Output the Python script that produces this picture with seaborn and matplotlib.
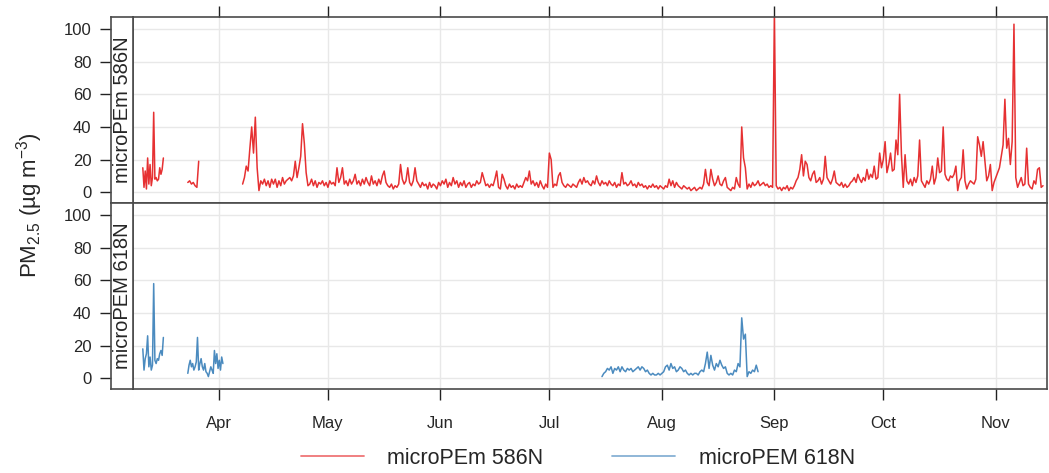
import numpy as np
import pandas as pd
import matplotlib
matplotlib.use("Agg")
import matplotlib.pyplot as plt
from matplotlib.ticker import NullLocator
from matplotlib.lines import Line2D
import seaborn as sns

# ---------------- data (PM2.5, ug m-3) ----------------
origin = "2017-03-01"          # day offsets below are counted from this date
series_names = ["microPEm 586N", "microPEM 618N"]
strip_labels = ["microPEm 586N", "microPEM 618N"]
month_ticks = ["2017-04-01", "2017-05-01", "2017-06-01", "2017-07-01",
               "2017-08-01", "2017-09-01", "2017-10-01", "2017-11-01"]
month_labels = ["Apr", "May", "Jun", "Jul", "Aug", "Sep", "Oct", "Nov"]
y_ticks = [0, 20, 40, 60, 80, 100]

# red monitor, segment 1 (8-hourly from day 10.0)
red_seg1_start, red_seg1_step = 10.0, 8
red_seg1 = [15, 3, 13, 2, 21, 5, 17, 4, 9, 49, 8, 9, 7, 8, 15, 11, 14, 21]
# red monitor, segment 2 (12-hourly from day 22.4)
red_seg2_start, red_seg2_step = 22.4, 12
red_seg2 = [6, 7, 5, 6, 4, 3, 19]
# red monitor, main record (12-hourly from day 37.5)
red_seg3_start, red_seg3_step = 37.5, 12
red_seg3 = [
    5, 9, 16, 13, 27, 40, 24, 46, 15, 1,
    7, 5, 8, 4, 7, 3, 8, 5, 8, 3,
    7, 4, 9, 5, 7, 8, 9, 7, 10, 19,
    9, 15, 22, 42, 30, 12, 4, 5, 8, 4,
    7, 3, 6, 5, 7, 4, 6, 3, 7, 5,
    6, 4, 15, 6, 9, 15, 5, 7, 4, 8,
    5, 7, 11, 5, 7, 4, 8, 5, 9, 6,
    4, 10, 5, 7, 4, 8, 5, 10, 13, 6,
    4, 3, 5, 2, 4, 3, 5, 17, 8, 5,
    7, 15, 6, 4, 7, 15, 7, 5, 3, 6,
    4, 5, 2, 6, 3, 5, 4, 2, 6, 4,
    7, 5, 8, 3, 6, 4, 9, 5, 7, 3,
    6, 4, 7, 3, 5, 6, 3, 5, 4, 7,
    5, 6, 12, 8, 4, 5, 3, 5, 4, 8,
    13, 3, 2, 11, 8, 4, 2, 5, 3, 4,
    2, 5, 3, 4, 3, 6, 9, 7, 13, 5,
    7, 4, 6, 3, 7, 4, 2, 5, 3, 24,
    20, 3, 5, 4, 10, 12, 6, 4, 3, 5,
    4, 3, 5, 4, 3, 6, 8, 5, 9, 6,
    7, 5, 4, 7, 5, 10, 6, 4, 7, 5,
    6, 4, 7, 5, 4, 6, 3, 5, 4, 12,
    5, 6, 4, 5, 7, 4, 5, 3, 6, 4,
    5, 3, 4, 2, 4, 3, 5, 3, 4, 2,
    4, 3, 2, 4, 3, 8, 4, 7, 3, 6,
    4, 3, 2, 4, 3, 2, 3, 1, 2, 3,
    1, 2, 3, 2, 5, 14, 6, 4, 14, 8,
    4, 6, 10, 5, 4, 7, 9, 3, 2, 1,
    3, 2, 9, 5, 3, 40, 21, 15, 2, 5,
    3, 6, 4, 5, 7, 4, 5, 6, 4, 5,
    3, 4, 3, 110, 4, 2, 3, 1, 3, 2,
    4, 1, 3, 2, 4, 7, 9, 14, 23, 10,
    19, 17, 9, 7, 11, 13, 6, 7, 9, 5,
    8, 22, 9, 7, 5, 8, 13, 6, 5, 4,
    6, 3, 5, 3, 4, 6, 7, 9, 6, 11,
    8, 6, 9, 7, 14, 8, 11, 9, 16, 8,
    9, 24, 15, 20, 31, 12, 17, 24, 13, 14,
    32, 23, 60, 23, 3, 23, 7, 5, 8, 4,
    9, 6, 10, 32, 7, 5, 3, 7, 5, 8,
    16, 5, 9, 21, 12, 13, 40, 11, 8, 7,
    10, 9, 11, 16, 1, 7, 9, 26, 7, 2,
    5, 7, 6, 5, 8, 34, 29, 22, 31, 19,
    7, 10, 17, 1, 6, 9, 12, 15, 22, 29,
    57, 27, 33, 17, 31, 103, 9, 3, 6, 9,
    4, 5, 27, 5, 3, 2, 7, 5, 14, 15,
    3, 4,
]

# blue monitor, segment 1 (8-hourly from day 10.0)
blue_seg1_start, blue_seg1_step = 10.0, 8
blue_seg1 = [18, 5, 12, 15, 26, 7, 13, 5, 8, 58, 11, 9, 12, 11, 15, 17, 14, 25]
# blue monitor, segment 2 (8-hourly from day 22.4)
blue_seg2_start, blue_seg2_step = 22.4, 8
blue_seg2 = [3, 8, 11, 7, 9, 5, 7, 10, 25, 5, 9, 12, 7, 5, 9, 4, 3, 1, 4, 7,
             5, 3, 17, 9, 15, 6, 11, 5, 13, 9]
# blue monitor, segment 3 (12-hourly from day 136.5)
blue_seg3_start, blue_seg3_step = 136.5, 12
blue_seg3 = [
    1, 3, 4, 6, 5, 7, 3, 6, 5, 7,
    4, 7, 5, 4, 6, 5, 6, 4, 5, 6,
    7, 5, 7, 6, 4, 5, 3, 2, 3, 2,
    2, 3, 2, 3, 4, 7, 8, 5, 9, 6,
    7, 4, 5, 7, 6, 4, 5, 3, 2, 3,
    2, 3, 3, 2, 4, 5, 4, 9, 16, 6,
    14, 8, 5, 9, 7, 11, 8, 6, 7, 3,
    2, 3, 2, 5, 4, 9, 7, 37, 24, 27,
    1, 4, 3, 5, 4, 8, 4,
]

RED = "#E41A1C"
BLUE = "#377EB8"
FRAME = "#4a4a4a"


def build(start, step_h, vals, seg):
    t = (pd.Timestamp(origin) + pd.to_timedelta(start, unit="D")
         + pd.to_timedelta(np.arange(len(vals)) * step_h, unit="h"))
    return pd.DataFrame({"time": t, "pm": vals, "segment": seg})


red_df = pd.concat([build(red_seg1_start, red_seg1_step, red_seg1, 1),
                    build(red_seg2_start, red_seg2_step, red_seg2, 2),
                    build(red_seg3_start, red_seg3_step, red_seg3, 3)])
blue_df = pd.concat([build(blue_seg1_start, blue_seg1_step, blue_seg1, 1),
                     build(blue_seg2_start, blue_seg2_step, blue_seg2, 2),
                     build(blue_seg3_start, blue_seg3_step, blue_seg3, 3)])

# ---------------- style ----------------
sns.set_theme(style="white")
plt.rcParams["font.family"] = ["Liberation Sans", "DejaVu Sans"]
plt.rcParams["mathtext.fontset"] = "custom"
plt.rcParams["mathtext.rm"] = "Liberation Sans"
plt.rcParams["mathtext.it"] = "Liberation Sans:italic"
plt.rcParams["mathtext.default"] = "regular"

W, H = 1049, 473
fig = plt.figure(figsize=(W / 100, H / 100), dpi=100)


def fx(px):
    return px / W


def fy(py):
    return 1 - py / H


x_left, x_strip, x_right = 111, 133, 1047
y_top, y_mid, y_bot = 17, 203, 389

ax_top = fig.add_axes([fx(x_strip), fy(y_mid), fx(x_right - x_strip), (y_mid - y_top) / H])
ax_bot = fig.add_axes([fx(x_strip), fy(y_bot), fx(x_right - x_strip), (y_bot - y_mid) / H], sharex=ax_top)
st_top = fig.add_axes([fx(x_left), fy(y_mid), fx(x_strip - x_left), (y_mid - y_top) / H])
st_bot = fig.add_axes([fx(x_left), fy(y_bot), fx(x_strip - x_left), (y_bot - y_mid) / H])

xmin = pd.Timestamp(origin) + pd.to_timedelta(7.3, unit="D")
xmax = pd.Timestamp(origin) + pd.to_timedelta(259.1, unit="D")
ylim = (-6.6, 107.4)
ticks_dt = pd.to_datetime(month_ticks)

for ax, df, col in [(ax_top, red_df, RED), (ax_bot, blue_df, BLUE)]:
    sns.lineplot(data=df, x="time", y="pm", units="segment", estimator=None,
                 color=col, lw=1.1, alpha=0.9, ax=ax, legend=False)
    ax.set_xlim(xmin, xmax)
    ax.set_ylim(*ylim)
    ax.set_xlabel("")
    ax.set_ylabel("")
    ax.set_yticks(y_ticks)
    ax.set_xticks(ticks_dt)
    ax.xaxis.set_minor_locator(NullLocator())
    ax.yaxis.set_minor_locator(NullLocator())
    ax.grid(True, color="#e8e8e8", lw=1.0)
    ax.set_axisbelow(True)
    ax.tick_params(axis="y", left=False, right=False, labelleft=False)
    for s in ax.spines.values():
        s.set_color(FRAME)
        s.set_linewidth(1.2)

ax_top.tick_params(axis="x", top=True, bottom=False, labeltop=False, labelbottom=False,
                   direction="out", length=8, width=1.0, color="#222222")
ax_bot.tick_params(axis="x", top=False, bottom=True, labelbottom=True, labeltop=False,
                   direction="out", length=8, width=1.0, color="#222222", labelsize=12, pad=11.5)
ax_bot.set_xticklabels(month_labels)

for st, lab in [(st_top, strip_labels[0]), (st_bot, strip_labels[1])]:
    st.set_xlim(0, 1)
    st.set_ylim(*ylim)
    st.xaxis.set_visible(False)
    st.set_yticks(y_ticks)
    st.set_yticklabels([str(v) for v in y_ticks])
    st.yaxis.set_minor_locator(NullLocator())
    st.tick_params(axis="y", left=True, right=False, direction="out", length=8, width=1.0,
                   color="#222222", labelsize=12, pad=6)
    st.set_facecolor("white")
    for s in st.spines.values():
        s.set_color(FRAME)
        s.set_linewidth(1.2)
    st.text(0.5, 0.5, lab, rotation=90, ha="center", va="center",
            fontsize=14.5, transform=st.transAxes)

fig.text(fx(30), fy(205), "PM$_{2.5}$ (µg m$^{-3}$)", rotation=90,
         ha="center", va="center", fontsize=16)

handles = [Line2D([], [], color=RED, lw=1.3, alpha=0.6),
           Line2D([], [], color=BLUE, lw=1.3, alpha=0.6)]
fig.legend(handles, series_names, loc="center", ncol=2, frameon=False,
           bbox_to_anchor=(fx(578), fy(458)), fontsize=15.5,
           handlelength=2.9, handletextpad=1.1, columnspacing=3.2)

fig.savefig("out.png", dpi=100)
